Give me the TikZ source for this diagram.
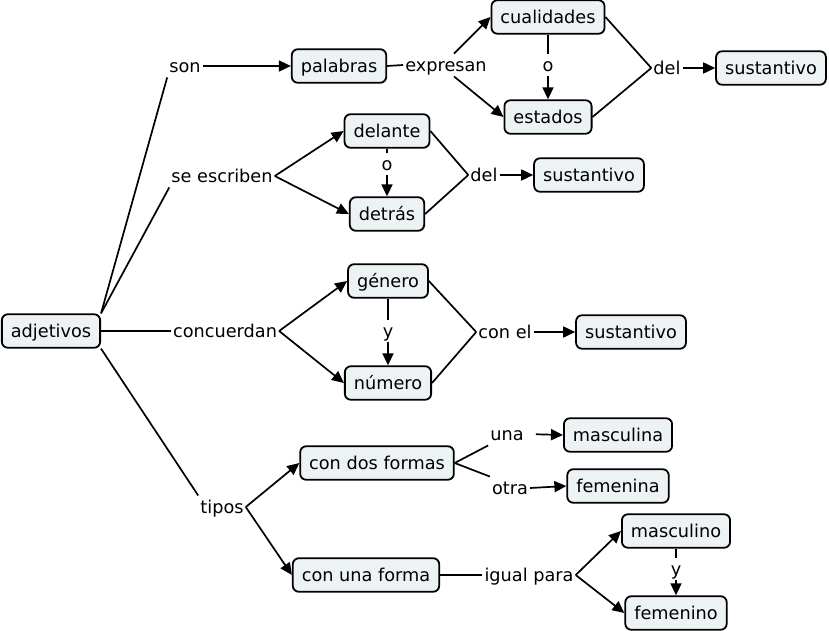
\documentclass[tikz,border=0pt]{standalone}
\usepackage{fontspec}
\setmainfont{DejaVu Sans}
\usetikzlibrary{arrows.meta}
\definecolor{boxfill}{RGB}{237,243,245}
\tikzset{
  concept/.style={draw=black, line width=1.8pt, fill=boxfill, rounded corners=6pt,
    inner xsep=9pt, inner ysep=7.5pt, text height=15.5pt, text depth=3pt},
  link/.style={inner sep=2pt, text height=15.5pt, text depth=3pt},
  conn/.style={line width=1.7pt},
  arr/.style={line width=1.7pt, -{Triangle[length=12pt,width=11pt]}}
}
\begin{document}
\begin{tikzpicture}[x=1pt,y=-1pt, font=\fontsize{17.7}{21}\selectfont]
\useasboundingbox (0,0) rectangle (829,631);
% concepts
\node[concept] (adj) at (51,331) {adjetivos};
\node[concept] (pal) at (339,66) {palabras};
\node[concept] (cual) at (548,17) {cualidades};
\node[concept] (est) at (548,117) {estados};
\node[concept] (sus1) at (771,68) {sustantivo};
\node[concept] (dela) at (387,131) {delante};
\node[concept] (detr) at (387,214) {detrás};
\node[concept] (sus2) at (589,175) {sustantivo};
\node[concept] (gen) at (388,281) {género};
\node[concept] (num) at (388,383) {número};
\node[concept] (sus3) at (631,332) {sustantivo};
\node[concept] (cdf) at (377,463) {con dos formas};
\node[concept] (mna) at (618,435) {masculina};
\node[concept] (fna) at (618,486) {femenina};
\node[concept] (cuf) at (366,575) {con una forma};
\node[concept] (mno) at (676,531) {masculino};
\node[concept] (fno) at (676,613) {femenino};
% linking phrases
\node[link] (son) at (185,66) {son};
\node[link] (exp) at (446,65) {expresan};
\node[link] (o1) at (548,65) {o};
\node[link] (del1) at (667,68) {del};
\node[link] (sesc) at (222,176) {se escriben};
\node[link] (o2) at (387,164) {o};
\node[link] (del2) at (484,175) {del};
\node[link] (conc) at (225,331) {concuerdan};
\node[link] (y1) at (388,331) {y};
\node[link] (conel) at (505,332) {con el};
\node[link] (tip) at (222,507) {tipos};
\node[link] (una) at (507,434) {una};
\node[link] (otra) at (510,488) {otra};
\node[link] (igu) at (529,575) {igual para};
\node[link] (y2) at (676,569) {y};
% connectors
\draw[conn] (adj.north east) -- (son.south west);
\draw[arr] (son.east) -- (pal.west);
\draw[conn] (pal.east) -- (exp.west);
\draw[arr] (exp.55) -- (cual.west);
\draw[arr] (exp.-55) -- (est.west);
\draw[conn] (cual.south) -- (o1.north);
\draw[arr] (o1.south) -- (est.north);
\draw[conn] (cual.east) -- (del1.west);
\draw[conn] (est.east) -- (del1.west);
\draw[arr] (del1.east) -- (sus1.west);
\draw[conn] (adj.north east) -- (sesc.south west);
\draw[arr] (sesc.east) -- (dela.west);
\draw[arr] (sesc.east) -- (detr.west);
\draw[conn] (dela.south) -- (o2.north);
\draw[arr] (o2.south) -- (detr.north);
\draw[conn] (dela.east) -- (del2.west);
\draw[conn] (detr.east) -- (del2.west);
\draw[arr] (del2.east) -- (sus2.west);
\draw[conn] (adj.east) -- (conc.west);
\draw[arr] (conc.east) -- (gen.west);
\draw[arr] (conc.east) -- (num.west);
\draw[conn] (gen.south) -- (y1.north);
\draw[arr] (y1.south) -- (num.north);
\draw[conn] (gen.east) -- (conel.west);
\draw[conn] (num.east) -- (conel.west);
\draw[arr] (conel.east) -- (sus3.west);
\draw[conn] (adj.south east) -- (tip.north west);
\draw[arr] (tip.east) -- (cdf.west);
\draw[arr] (tip.east) -- (cuf.west);
\draw[conn] (cdf.east) -- (una.south west);
\draw[conn] (cdf.east) -- (otra.north west);
\draw[arr, shorten <=10pt] (una.east) -- (mna.west);
\draw[arr] (otra.east) -- (fna.west);
\draw[conn] (cuf.east) -- (igu.west);
\draw[arr] (igu.east) -- (mno.west);
\draw[arr] (igu.east) -- (fno.west);
\draw[conn] (mno.south) -- (y2.north);
\draw[arr] (y2.south) -- (fno.north);
\end{tikzpicture}
\end{document}
